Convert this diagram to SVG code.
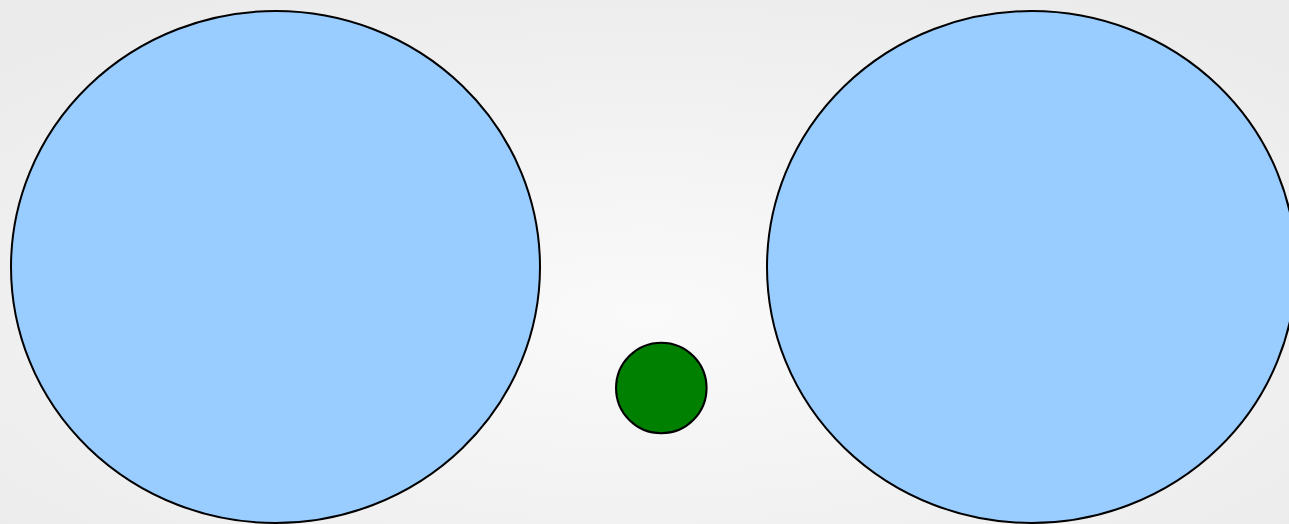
<svg xmlns="http://www.w3.org/2000/svg" width="1289" height="524" viewBox="0 0 1289 524">
<defs>
<style>
.big{fill:#99ccff;stroke:#000;stroke-width:2}
.dot{fill:#008000;stroke:#000;stroke-width:2}
</style>
<radialGradient id="bg" cx="50%" cy="60%" r="70%">
<stop offset="0" stop-color="#fafafa"/>
<stop offset="1" stop-color="#ebebeb"/>
</radialGradient>
</defs>
<rect width="1289" height="524" fill="url(#bg)"/>
<g id="left-circle"><ellipse class="big" cx="275.5" cy="267" rx="264.5" ry="256"/></g>
<g id="right-circle"><ellipse class="big" cx="1031.5" cy="267" rx="264.5" ry="256"/></g>
<g id="green-dot"><circle class="dot" cx="661.3" cy="388" r="45.3"/></g>
<g id="connectors"></g>
</svg>
